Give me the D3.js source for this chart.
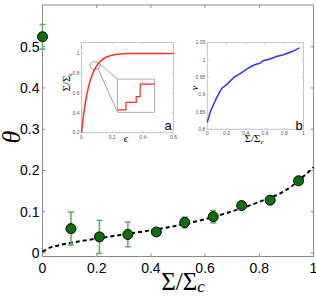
<!DOCTYPE html>
<html>
<head>
<meta charset="utf-8">
<script src="https://cdn.jsdelivr.net/npm/d3@7"></script>
<style>
  body { margin: 0; background: #fff; }
  text { font-family: "Liberation Sans", Arial, sans-serif; }
  .serif { font-family: "Liberation Serif", "DejaVu Serif", serif; }
</style>
</head>
<body>
<svg id="chart" width="316" height="296"></svg>
<script>
// main data: theta vs Sigma/Sigma_c
const sigma = [0, 0.105, 0.21, 0.315, 0.42, 0.525, 0.63, 0.735, 0.84, 0.945]
const theta = [0.524, 0.059, 0.039, 0.045, 0.051, 0.074, 0.088, 0.115, 0.128, 0.175]
const thetaErr = [0.030, 0.040, 0.040, 0.030, 0.004, 0.013, 0.015, 0.004, 0.004, 0.004]

// dashed fit
const fitX = [0, 0.02, 0.05, 0.1, 0.2, 0.3, 0.4, 0.5, 0.6, 0.7, 0.8, 0.9, 1.0]
const fitY = [0.003, 0.011, 0.017, 0.024, 0.035, 0.045, 0.055, 0.067, 0.082, 0.101, 0.124, 0.153, 0.208]

const xTicks = [0, 0.2, 0.4, 0.6, 0.8, 1]
const yTicks = [0, 0.1, 0.2, 0.3, 0.4, 0.5]

// inset a: Sigma/Sigma_c vs epsilon
const epsA = [0, 0.01, 0.02, 0.03, 0.05, 0.07, 0.1, 0.13, 0.16, 0.2, 0.25, 0.3, 0.6]
const sigA = [0.2, 0.34, 0.45, 0.545, 0.69, 0.785, 0.878, 0.93, 0.961, 0.982, 0.995, 1.0, 1.0]
const aXTicks = [0, 0.2, 0.4, 0.6]
const aYTicks = [0.2, 0.4, 0.6, 0.8, 1]
// zoomed staircase (box-local units)
const stairU = [0, 0.227, 0.505, 0.613, 1]
const stairV = [0.07, 0.3, 0.47, 0.85, 0.85]

// inset b: v vs Sigma/Sigma_c
const sigB = [0, 0.03, 0.07, 0.1, 0.15, 0.2, 0.23, 0.28, 0.35, 0.41, 0.46, 0.51, 0.55, 0.58, 0.65, 0.72, 0.79, 0.87, 0.96]
const vB = [0.82, 0.85, 0.875, 0.893, 0.918, 0.929, 0.937, 0.951, 0.962, 0.974, 0.982, 0.988, 0.991, 0.998, 1.003, 1.01, 1.015, 1.023, 1.035]
const bXTicks = [0, 0.2, 0.4, 0.6, 0.8, 1]
const bYTicks = [0.8, 0.85, 0.9, 0.95, 1, 1.05]

const svg = d3.select("#chart")
const frameColor = "#8a8a8a"

// ---------- main axes ----------
const x = d3.scaleLinear().domain([0, 1]).range([42.5, 313.5])
const y = d3.scaleLinear().domain([-0.0085, 0.601]).range([256.5, 5])

const fmt = d => d === 0 ? "0" : d === 1 ? "1" : String(d)

const drawFrame = function (g, xs, ys, xt, yt, opts) {
  const [x0, x1] = xs.range()
  const [y0, y1] = ys.range()
  const tl = opts.tick
  g.append("rect")
    .attr("x", x0).attr("y", y1)
    .attr("width", x1 - x0).attr("height", y0 - y1)
    .attr("fill", opts.fill || "none")
    .attr("stroke", opts.stroke).attr("stroke-width", 1)
  xt.forEach(t => {
    g.append("line").attr("x1", xs(t)).attr("x2", xs(t)).attr("y1", y0).attr("y2", y0 - tl).attr("stroke", opts.stroke)
    g.append("line").attr("x1", xs(t)).attr("x2", xs(t)).attr("y1", y1).attr("y2", y1 + tl).attr("stroke", opts.stroke)
    g.append("text").attr("x", xs(t)).attr("y", y0 + opts.xlabDy)
      .attr("text-anchor", "middle").attr("font-size", opts.font).attr("fill", opts.labColor)
      .text(fmt(t))
  })
  yt.forEach(t => {
    g.append("line").attr("x1", x0).attr("x2", x0 + tl).attr("y1", ys(t)).attr("y2", ys(t)).attr("stroke", opts.stroke)
    g.append("line").attr("x1", x1).attr("x2", x1 - tl).attr("y1", ys(t)).attr("y2", ys(t)).attr("stroke", opts.stroke)
    g.append("text").attr("x", x0 - opts.ylabDx).attr("y", ys(t)).attr("dy", "0.35em")
      .attr("text-anchor", "end").attr("font-size", opts.font).attr("fill", opts.labColor)
      .text(fmt(t))
  })
}

const main = svg.append("g")
drawFrame(main, x, y, xTicks, yTicks, { tick: 3, stroke: frameColor, font: 14, labColor: "#000", xlabDy: 16, ylabDx: 3 })

// axis labels
const xl = main.append("text").attr("class", "serif").attr("x", 183).attr("y", 290)
  .attr("text-anchor", "middle").attr("font-size", 25)
xl.append("tspan").text("Σ/Σ")
xl.append("tspan").attr("font-size", 17).attr("font-style", "italic").attr("dy", 2).text("c")

main.append("text").attr("class", "serif")
  .attr("transform", "translate(20,137) rotate(-90)")
  .attr("text-anchor", "middle").attr("font-size", 26).attr("font-style", "italic")
  .text("θ")

// ---------- inset a ----------
const ax = d3.scaleLinear().domain([0, 0.6]).range([81.5, 173.5])
const ay = d3.scaleLinear().domain([0.2, 1.11]).range([132.7, 42.5])
const ga = svg.append("g")
drawFrame(ga, ax, ay, aXTicks, aYTicks, { tick: 1.5, stroke: "#c4c4c4", fill: "#fff", font: 5, labColor: "#555", xlabDy: 6, ylabDx: 2 })

ga.append("path")
  .datum(epsA.map((e, i) => [e, sigA[i]]))
  .attr("fill", "none").attr("stroke", "#ff2a2a").attr("stroke-width", 1.5)
  .attr("d", d3.line().x(d => ax(d[0])).y(d => ay(d[1])).curve(d3.curveMonotoneX))

// magnifier
const cx = ax(0.088), cy = ay(0.877)
ga.append("ellipse").attr("cx", cx).attr("cy", cy).attr("rx", 5).attr("ry", 4)
  .attr("fill", "none").attr("stroke", "#888").attr("stroke-width", 0.8)
const zx = d3.scaleLinear().domain([0, 1]).range([ax(0.235), ax(0.476)])
const zy = d3.scaleLinear().domain([0, 1]).range([ay(0.406), ay(0.741)])
ga.append("line").attr("x1", cx + 4).attr("y1", cy - 2.5).attr("x2", zx(0)).attr("y2", zy(1))
  .attr("stroke", "#888").attr("stroke-width", 0.8)
ga.append("line").attr("x1", cx + 3).attr("y1", cy + 3).attr("x2", zx(0)).attr("y2", zy(0))
  .attr("stroke", "#888").attr("stroke-width", 0.8)
ga.append("rect").attr("x", zx(0)).attr("y", zy(1))
  .attr("width", zx(1) - zx(0)).attr("height", zy(0) - zy(1))
  .attr("fill", "#fff").attr("stroke", "#999").attr("stroke-width", 0.8)
ga.append("path")
  .datum(stairU.map((u, i) => [u, stairV[i]]))
  .attr("fill", "none").attr("stroke", "#ff2a2a").attr("stroke-width", 1.2)
  .attr("d", d3.line().x(d => zx(d[0])).y(d => zy(d[1])).curve(d3.curveStepAfter))

ga.append("text").attr("x", 168).attr("y", 130).attr("text-anchor", "middle").attr("font-size", 13).text("a")
ga.append("text").attr("class", "serif").attr("x", 126).attr("y", 142)
  .attr("text-anchor", "middle").attr("font-size", 11).attr("font-style", "italic").text("ϵ")
const ayl = ga.append("text").attr("class", "serif")
  .attr("transform", "translate(70,82) rotate(-90)")
  .attr("text-anchor", "middle").attr("font-size", 11)
ayl.append("tspan").text("Σ/Σ")
ayl.append("tspan").attr("font-size", 7).attr("font-style", "italic").attr("dy", 2).text("c")

// ---------- inset b ----------
const bx = d3.scaleLinear().domain([0, 1]).range([207.3, 303.5])
const by = d3.scaleLinear().domain([0.8, 1.05]).range([129.3, 42.7])
const gb = svg.append("g")
drawFrame(gb, bx, by, bXTicks, bYTicks, { tick: 1.5, stroke: "#c4c4c4", fill: "#fff", font: 5, labColor: "#555", xlabDy: 6, ylabDx: 2 })

gb.append("path")
  .datum(sigB.map((s, i) => [s, vB[i]]))
  .attr("fill", "none").attr("stroke", "#3030ff").attr("stroke-width", 1.5)
  .attr("d", d3.line().x(d => bx(d[0])).y(d => by(d[1])))

gb.append("text").attr("x", 299).attr("y", 130).attr("text-anchor", "middle").attr("font-size", 13).text("b")
gb.append("text").attr("class", "serif")
  .attr("transform", "translate(198,88) rotate(-90)")
  .attr("text-anchor", "middle").attr("font-size", 10).attr("font-style", "italic").text("v")
const bxl = gb.append("text").attr("class", "serif").attr("x", 254).attr("y", 142)
  .attr("text-anchor", "middle").attr("font-size", 11)
bxl.append("tspan").text("Σ/Σ")
bxl.append("tspan").attr("font-size", 7).attr("font-style", "italic").attr("dy", 2).text("c")

// ---------- data on top ----------
main.append("path")
  .datum(fitX.map((v, i) => [v, fitY[i]]))
  .attr("fill", "none").attr("stroke", "#000").attr("stroke-width", 2)
  .attr("stroke-dasharray", "4,3")
  .attr("d", d3.line().x(d => x(d[0])).y(d => y(d[1])).curve(d3.curveMonotoneX))

const pts = sigma.map((s, i) => ({ s: s, t: theta[i], e: thetaErr[i] }))
const errColor = "#5cae5c"
const eb = main.append("g")
pts.forEach(p => {
  eb.append("line").attr("x1", x(p.s)).attr("x2", x(p.s)).attr("y1", y(p.t - p.e)).attr("y2", y(p.t + p.e))
    .attr("stroke", errColor).attr("stroke-width", 1.5)
  ;[p.t - p.e, p.t + p.e].forEach(v => {
    eb.append("line").attr("x1", x(p.s) - 3).attr("x2", x(p.s) + 3).attr("y1", y(v)).attr("y2", y(v))
      .attr("stroke", errColor).attr("stroke-width", 1.5)
  })
})
main.append("g").selectAll("circle").data(pts).join("circle")
  .attr("cx", d => x(d.s)).attr("cy", d => y(d.t)).attr("r", 5)
  .attr("fill", "#0a700a").attr("stroke", "#000").attr("stroke-width", 1)
</script>
</body>
</html>
